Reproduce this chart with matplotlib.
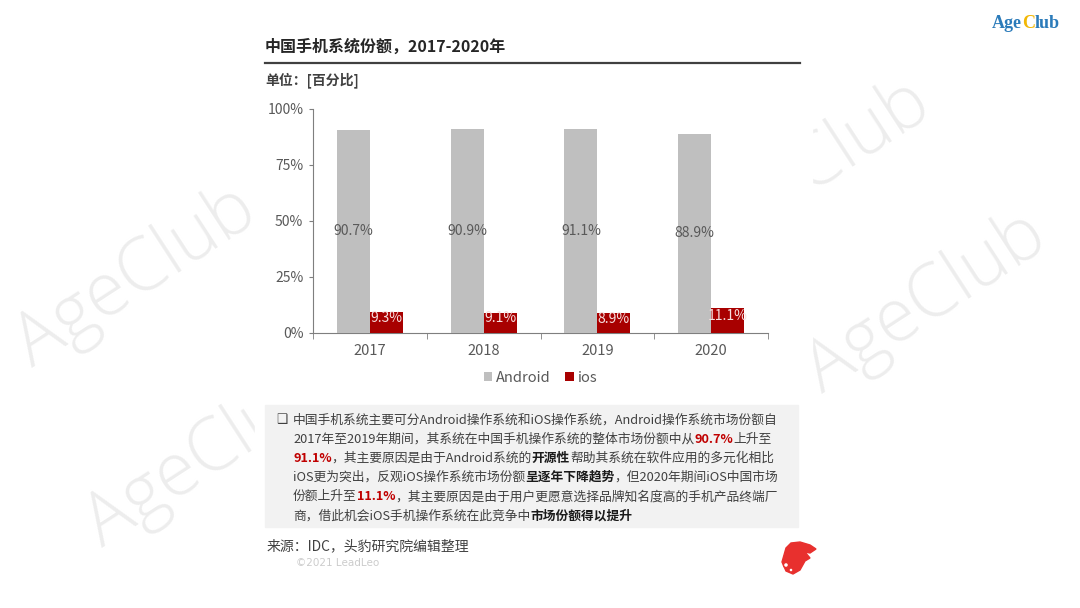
import numpy as np
import matplotlib
matplotlib.use("Agg")
from matplotlib import pyplot as plt
from matplotlib.patches import Rectangle, Polygon, Circle

years = ["2017", "2018", "2019", "2020"]
android = [90.7, 90.9, 91.1, 88.9]
ios = [9.3, 9.1, 8.9, 11.1]
yticks = [0, 25, 50, 75, 100]

title = "中国手机系统份额，2017-2020年"
unit = "单位：[百分比]"
source = "来源：IDC，头豹研究院编辑整理"

GRAY = "#bfbfbf"
RED = "#a80000"
TXT = "#404040"
HI = "#c00000"
CJK = ["Noto Sans CJK SC", "DejaVu Sans"]

# body text, split in (text, style) parts; n = normal, r = red bold, b = bold
body = [
    [("中国手机系统主要可分Android操作系统和iOS操作系统，Android操作系统市场份额自", "n")],
    [("2017年至2019年期间，其系统在中国手机操作系统的整体市场份额中从", "n"), ("90.7%", "r"), ("上升至", "n")],
    [("91.1%", "r"), ("，其主要原因是由于Android系统的", "n"), ("开源性", "b"), ("帮助其系统在软件应用的多元化相比", "n")],
    [("iOS更为突出，反观iOS操作系统市场份额", "n"), ("呈逐年下降趋势", "b"), ("，但2020年期间iOS中国市场", "n")],
    [("份额上升至", "n"), ("11.1%", "r"), ("，其主要原因是由于用户更愿意选择品牌知名度高的手机产品终端厂", "n")],
    [("商，借此机会iOS手机操作系统在此竞争中", "n"), ("市场份额得以提升", "b")],
]

plt.rcParams["font.family"] = CJK

fig = plt.figure(figsize=(10.8, 6.08), dpi=100)
renderer = fig.canvas.get_renderer()

# full-figure overlay in pixel units
over = fig.add_axes([0, 0, 1, 1])
over.set_xlim(0, 1080)
over.set_ylim(608, 0)
over.axis("off")

# watermarks, then white panel on top of them
for wx, wy in [(32, 368), (102, 548), (706, 262), (822, 394)]:
    over.text(wx, wy, "AgeClub", fontsize=53, color="#ededed", rotation=33,
              rotation_mode="anchor", ha="left", va="baseline",
              family=["Open Sans", "DejaVu Sans"], fontweight="light", zorder=0)
over.add_patch(Rectangle((255, 0), 557, 608, color="white", zorder=1))

# logo top right
def put_parts(x, y, parts, **kw):
    for s, c, wgt in parts:
        t = over.text(x, y, s, color=c, fontweight=wgt, ha="left", va="center", zorder=5, **kw)
        x += t.get_window_extent(renderer).width
    return x

put_parts(992, 23, [("Age", "#2b7bba", "bold"), ("C", "#f2b705", "bold"), ("lub", "#2b7bba", "bold")],
          fontsize=13, family="Liberation Serif")

# titles
over.text(265, 47, title, fontsize=11.5, fontweight="bold", color="#262626",
          ha="left", va="center", zorder=5)
over.plot([265, 800], [63, 63], color="#404040", lw=1.6, zorder=5)
over.text(265, 80, unit, fontsize=10, fontweight="bold", color="#404040",
          ha="left", va="center", zorder=5)

# body box
over.add_patch(Rectangle((265, 405), 533, 122, color="#f2f2f2", zorder=2))
over.text(282, 420, "❑", fontsize=9, color=TXT, family="DejaVu Sans",
          ha="center", va="center", zorder=5)
styles = {"n": (TXT, "normal"), "r": (HI, "bold"), "b": ("#1a1a1a", "bold")}
for i, line in enumerate(body):
    parts = [(s, styles[k][0], styles[k][1]) for s, k in line]
    put_parts(293, 420 + i * 19.2, parts, fontsize=9.2)

# source and copyright
over.text(267, 546, source, fontsize=10, color=TXT, ha="left", va="center", zorder=5)
over.text(296, 563, "©2021 LeadLeo", fontsize=7.5, color="#cccccc",
          ha="left", va="center", family="DejaVu Sans", zorder=5)

# little leopard mark
head = [(786, 548), (791, 543), (800, 542), (810, 545), (816, 549), (810, 553),
        (805, 552), (810, 558), (805, 561), (800, 570), (793, 574), (786, 571),
        (782, 562)]
over.add_patch(Polygon(head, closed=True, color="#e8302e", zorder=5))
for cx, cy, r in [(786, 565, 2.5), (791, 570, 2)]:
    over.add_patch(Circle((cx, cy), r, facecolor="white", edgecolor="#e8302e", lw=1, zorder=6))

# bar chart
ax = fig.add_axes([313 / 1080, 1 - 333 / 608, 455 / 1080, 224 / 608])
ax.set_facecolor("none")
x = np.arange(len(years))
w = 0.29
ax.bar(x - w / 2, android, w, color=GRAY, label="Android", zorder=3)
ax.bar(x + w / 2, ios, w, color=RED, label="ios", zorder=3)

for xi, v in zip(x, android):
    ax.text(xi - w / 2, v / 2, f"{v}%", ha="center", va="center",
            fontsize=10, color="#595959", zorder=4)
for xi, v in zip(x, ios):
    ax.text(xi + w / 2, v / 2 + 2, f"{v}%", ha="center", va="center",
            fontsize=10, color="#f6dede", zorder=4)

ax.set_xlim(-0.5, len(years) - 0.5)
ax.set_ylim(0, 100)
ax.set_yticks(yticks)
ax.set_yticklabels([f"{t}%" for t in yticks])
ax.set_xticks(x)
ax.set_xticklabels(years)
ax.set_xticks(np.arange(len(years) + 1) - 0.5, minor=True)
ax.tick_params(axis="x", which="major", length=0, pad=8, labelsize=10.5, labelcolor="#595959")
ax.tick_params(axis="x", which="minor", length=4, color="#7f7f7f")
ax.tick_params(axis="y", length=3, pad=4, labelsize=10, labelcolor="#595959", color="#7f7f7f")
for s in ["top", "right"]:
    ax.spines[s].set_visible(False)
for s in ["left", "bottom"]:
    ax.spines[s].set_color("#7f7f7f")

ax.legend(loc="center", bbox_to_anchor=(0.5, -0.2), ncol=2, frameon=False,
          handlelength=0.6, handleheight=0.6, handletextpad=0.25, columnspacing=1.0,
          fontsize=10.5, labelcolor="#595959")

fig.savefig("out.png", dpi=100)
